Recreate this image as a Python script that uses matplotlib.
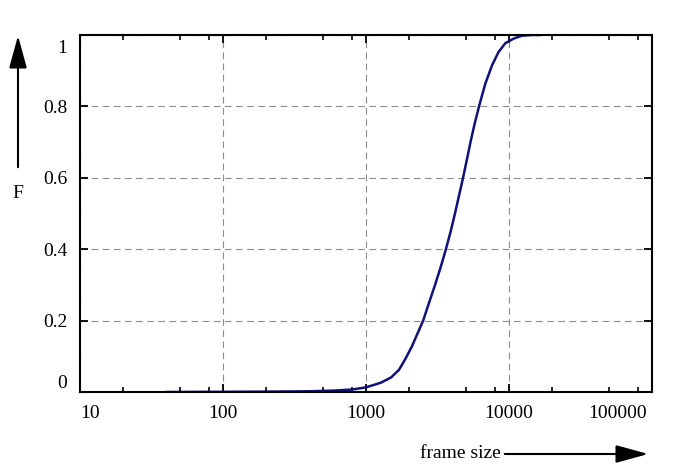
import matplotlib
matplotlib.use('Agg')
import matplotlib.pyplot as plt
import matplotlib.transforms as mtransforms
from matplotlib.ticker import FixedLocator, NullFormatter

plt.rcParams['font.family'] = ['Liberation Serif', 'DejaVu Serif']

# CDF of frame sizes
frame_size = [40, 100, 200, 400, 600, 800, 1000, 1270, 1500, 1700, 1870, 2090,
              2510, 2760, 3040, 3330, 3620, 3910, 4190, 4470, 4770, 5070, 5380,
              5740, 6170, 6810, 7590, 8440, 9420, 10800, 12300, 14500, 16600]
F = [0.0, 0.0005, 0.001, 0.002, 0.004, 0.007, 0.013, 0.026, 0.041, 0.062, 0.090, 0.127,
     0.20, 0.25, 0.30, 0.35, 0.40, 0.45, 0.50, 0.55, 0.60, 0.65, 0.70,
     0.75, 0.80, 0.862, 0.914, 0.952, 0.977, 0.99, 0.998, 1.0, 1.0]

x_ticks = [10, 100, 1000, 10000, 100000]
x_labels = ['10', '100', '1000', '10000', '100000']
y_ticks = [0, 0.2, 0.4, 0.6, 0.8, 1.0]
y_labels = ['0', '0.2', '0.4', '0.6', '0.8', '1']
x_minor = [m * 10 ** e for e in range(1, 5) for m in (2, 5, 8)]

W, H = 700, 472
fig = plt.figure(figsize=(W / 100, H / 100), dpi=100)
ax = fig.add_axes([80 / W, 1 - 392 / H, (652 - 80) / W, (392 - 35) / H])

ax.plot(frame_size, F, color='#10107a', lw=1.8, solid_capstyle='round',
        solid_joinstyle='round')

ax.set_xscale('log')
ax.set_xlim(10, 100000)
ax.set_ylim(0, 1)
ax.set_xticks(x_ticks)
ax.set_xticklabels(x_labels)
ax.xaxis.set_minor_locator(FixedLocator(x_minor))
ax.xaxis.set_minor_formatter(NullFormatter())
ax.set_yticks(y_ticks)
ax.set_yticklabels(y_labels)

ax.grid(True, which='major', color='#8c8c8c', linestyle=(0, (6, 4)), lw=0.8)
for s in ax.spines.values():
    s.set_linewidth(1.5)
ax.tick_params(which='both', direction='in', top=True, right=True, labelsize=14)
ax.tick_params(which='major', length=6, width=1.3)
ax.tick_params(which='minor', length=3.5, width=1.2)
ax.tick_params(axis='x', pad=9)
ax.tick_params(axis='y', pad=9)

# edge labels pulled inside the frame
xl = ax.get_xticklabels()
xl[0].set_ha('left')
xl[-1].set_ha('right')
xl[-1].set_transform(xl[-1].get_transform() +
                     mtransforms.ScaledTranslation(-5 / 100, 0, fig.dpi_scale_trans))
yl = ax.get_yticklabels()
yl[0].set_va('bottom')
yl[-1].set_va('top')
yl[-1].set_transform(yl[-1].get_transform() +
                     mtransforms.ScaledTranslation(0, -5 / 100, fig.dpi_scale_trans))

# axis arrows
arrow = dict(arrowstyle='-|>,head_length=2.0,head_width=0.55', color='black', lw=1.5)
ax.annotate('', xy=(18 / W, 1 - 33 / H), xytext=(18 / W, 1 - 170 / H),
            xycoords='figure fraction', arrowprops=arrow)
fig.text(18 / W, 1 - 193 / H, 'F', ha='center', va='center', fontsize=14)
ax.annotate('', xy=(651 / W, 1 - 454 / H), xytext=(502 / W, 1 - 454 / H),
            xycoords='figure fraction', arrowprops=arrow)
fig.text(501 / W, 1 - 454 / H, 'frame size', ha='right', va='center', fontsize=14)

fig.savefig('out.png', dpi=100)
